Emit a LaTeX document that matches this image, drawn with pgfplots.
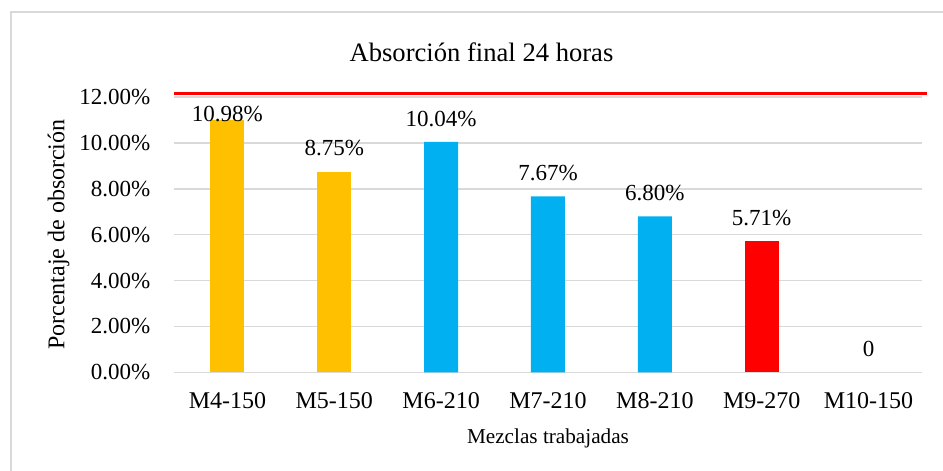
\documentclass[border=0pt]{standalone}
\usepackage{fontspec}
\setmainfont{Liberation Serif}
\usepackage{pgfplots}
\pgfplotsset{compat=1.18}
\definecolor{cyell}{HTML}{FFC000}
\definecolor{cblue}{HTML}{00B0F0}
\definecolor{cred}{HTML}{FF0000}
\definecolor{cgrid}{HTML}{D9D9D9}
\begin{document}
\begin{tikzpicture}
\path[use as bounding box] (0,0) rectangle (471.5pt,235.5pt);
\draw[cgrid, line width=0.9pt] (5.5pt,0) -- (5.5pt,229.5pt) -- (471.5pt,229.5pt);
\begin{axis}[
  at={(87pt,49.35pt)}, anchor=south west,
  scale only axis, width=374pt, height=137.65pt,
  /pgf/number format/assume math mode=true,
  ybar, bar width=17pt,
  xmin=-0.5, xmax=6.5, ymin=0, ymax=12,
  clip=false,
  xtick={0,1,2,3,4,5,6},
  xticklabels={M4-150,M5-150,M6-210,M7-210,M8-210,M9-270,M10-150},
  ytick={0,2,4,6,8,10,12},
  yticklabel={\pgfmathprintnumber[fixed,fixed zerofill,precision=2]{\tick}\%},
  major tick length=0pt,
  axis line style={draw=none},
  ymajorgrids, grid style={draw=cgrid, line width=0.75pt},
  xticklabel style={font=\fontsize{12}{14}\selectfont, inner sep=0pt, anchor=north, yshift=-10pt},
  yticklabel style={font=\fontsize{11.5}{13}\selectfont, inner sep=0pt, anchor=east, xshift=-11.6pt},
  title={Absorción final 24 horas},
  title style={font=\fontsize{13.3}{15}\selectfont, at={(axis description cs:0.4111,1)}, anchor=base, inner sep=0pt, yshift=11.8pt},
  xlabel={Mezclas trabajadas},
  xlabel style={font=\fontsize{10.6}{12}\selectfont, at={(axis description cs:0.5,0)}, anchor=north, inner sep=0pt, yshift=-28pt},
  ylabel={Porcentaje de obsorción},
  ylabel style={font=\fontsize{12}{14}\selectfont, at={([xshift=-57.65pt]axis description cs:0,0.5)}, anchor=center, inner sep=0pt},
  nodes near coords={\pgfmathprintnumber[fixed,fixed zerofill,precision=2]{\pgfplotspointmeta}\%},
  every node near coord/.append style={font=\fontsize{11.5}{13}\selectfont, anchor=south, inner sep=0pt, yshift=7.5pt, text=black},
]
\addplot[sharp plot, cred, line width=1.6pt, forget plot, nodes near coords={}] coordinates {(-0.5,12.15) (6.55,12.15)};
\addplot[fill=cyell, draw=none, bar shift=0pt, every node near coord/.append style={yshift=-8.65pt}] coordinates {(0,10.98)};
\addplot[fill=cyell, draw=none, bar shift=0pt] coordinates {(1,8.75)};
\addplot[fill=cblue, draw=none, bar shift=0pt] coordinates {(2,10.04) (3,7.67) (4,6.80)};
\addplot[fill=cred, draw=none, bar shift=0pt] coordinates {(5,5.71)};
\addplot[fill=none, draw=none, bar shift=0pt, nodes near coords={0}] coordinates {(6,0)};
\end{axis}
\end{tikzpicture}
\end{document}
